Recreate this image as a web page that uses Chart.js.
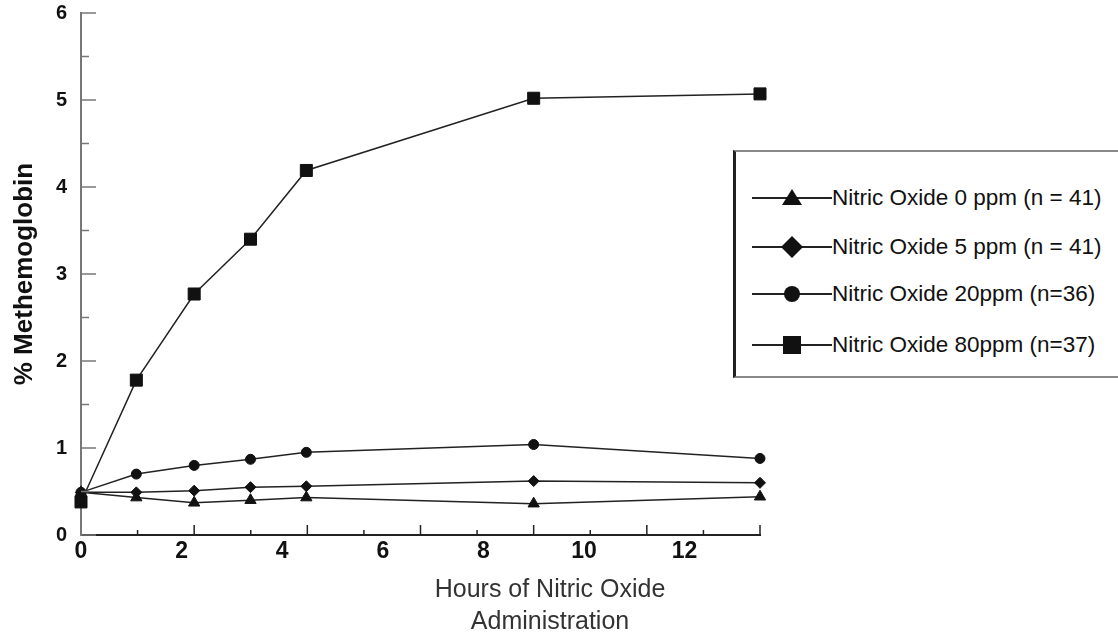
<!DOCTYPE html>
<html>
<head>
<meta charset="utf-8">
<title>Methemoglobin vs hours of nitric oxide</title>
<script src="https://cdn.jsdelivr.net/npm/chart.js@4/dist/chart.umd.min.js"></script>
<style>
  html, body { margin: 0; padding: 0; background: #fff; }
  #wrap { position: relative; width: 1118px; height: 641px; overflow: hidden; }
  #legend {
    position: absolute; left: 733px; top: 150px; width: 420px; height: 228px;
    box-sizing: border-box; background: #fff;
    border: 2px solid #888; border-left: 3px solid #222;
  }
  .item {
    position: absolute; left: 16px; height: 30px;
    display: flex; align-items: center; white-space: nowrap;
    font-family: 'Liberation Sans', Arial, sans-serif; font-size: 22.5px; color: #111;
  }
  .item svg { display: block; }
</style>
</head>
<body>
<div id="wrap">
  <canvas id="chartArea" width="1118" height="641"></canvas>
  <div id="legend"></div>
</div>
<script>
// values
const HOURS = [0, 1.1, 2.25, 3.37, 4.48, 9.0, 13.5];
const NO_0PPM = [0.49, 0.43, 0.37, 0.40, 0.43, 0.36, 0.44];
const NO_5PPM = [0.49, 0.49, 0.51, 0.55, 0.56, 0.62, 0.60];
const NO_20PPM = [0.49, 0.70, 0.80, 0.87, 0.95, 1.04, 0.88];
const NO_80PPM = [0.38, 1.78, 2.77, 3.40, 4.19, 5.02, 5.07];
const SERIES_LABELS = [
  'Nitric Oxide 0 ppm (n = 41)',
  'Nitric Oxide 5 ppm (n = 41)',
  'Nitric Oxide 20ppm (n=36)',
  'Nitric Oxide 80ppm (n=37)'
];
const X_TICKS = [0, 2, 4, 6, 8, 10, 12];
const X_MAX = 13.5;
const Y_MAX = 6;
const X_MARKS = 12; // tick marks along the x axis (not aligned with labels in the original)

function toPoints(values) {
  return HOURS.map((h, i) => ({ x: h, y: values[i] }));
}

// short tick marks pointing into the plot, like the original figure
const innerTicks = {
  id: 'innerTicks',
  afterDraw(chart) {
    const { ctx, scales: { x, y } } = chart;
    ctx.save();
    ctx.lineWidth = 1.5;

    ctx.strokeStyle = '#777';
    for (const t of y.ticks) {
      const py = y.getPixelForValue(t.value);
      ctx.beginPath();
      ctx.moveTo(x.left, py);
      ctx.lineTo(x.left + 15, py);
      ctx.stroke();
      if (t.value < Y_MAX) {
        const pm = y.getPixelForValue(t.value + 0.5);
        ctx.beginPath();
        ctx.moveTo(x.left, pm);
        ctx.lineTo(x.left + 8, pm);
        ctx.stroke();
      }
    }

    ctx.strokeStyle = '#222';
    for (let i = 1; i <= X_MARKS; i++) {
      const px = x.getPixelForValue(X_MAX * i / X_MARKS);
      const len = i % 2 === 0 ? 10 : 5;
      ctx.beginPath();
      ctx.moveTo(px, y.bottom);
      ctx.lineTo(px, y.bottom - len);
      ctx.stroke();
    }
    ctx.restore();
  }
};

const lineStyle = {
  borderColor: '#222',
  backgroundColor: '#111',
  pointBackgroundColor: '#111',
  pointBorderColor: '#111',
  borderWidth: 1.5,
  pointBorderWidth: 1,
  tension: 0,
  fill: false,
  clip: false
};

const data = {
  datasets: [
    { ...lineStyle, label: SERIES_LABELS[0], data: toPoints(NO_0PPM), pointStyle: 'triangle', pointRadius: 6.5 },
    { ...lineStyle, label: SERIES_LABELS[1], data: toPoints(NO_5PPM), pointStyle: 'rectRot', pointRadius: 5.5 },
    { ...lineStyle, label: SERIES_LABELS[2], data: toPoints(NO_20PPM), pointStyle: 'circle', pointRadius: 5 },
    { ...lineStyle, label: SERIES_LABELS[3], data: toPoints(NO_80PPM), pointStyle: 'rect', pointRadius: 8.5 }
  ]
};

const config = {
  type: 'line',
  data: data,
  plugins: [innerTicks],
  options: {
    responsive: false,
    animation: false,
    events: [],
    layout: { padding: { top: 13, right: 18, bottom: 3, left: 0 } },
    plugins: {
      legend: { display: false },
      tooltip: { enabled: false },
      title: {
        display: true,
        position: 'bottom',
        text: ['Hours of Nitric Oxide', 'Administration'],
        color: '#333',
        font: { family: "'Liberation Sans', Arial, sans-serif", size: 25, weight: 'normal', lineHeight: '32px' },
        padding: 0
      }
    },
    scales: {
      x: {
        type: 'linear',
        min: 0,
        max: X_MAX,
        afterBuildTicks: (s) => { s.ticks = X_TICKS.map(v => ({ value: v })); },
        afterFit: (s) => { s.height = 39; },
        grid: { display: false, drawTicks: false },
        border: { display: true, color: '#222', width: 2 },
        ticks: {
          color: '#111',
          padding: 3,
          maxRotation: 0,
          autoSkip: false,
          font: { family: "'Liberation Sans', Arial, sans-serif", size: 23, weight: 'bold' }
        }
      },
      y: {
        min: 0,
        max: Y_MAX,
        afterFit: (s) => { s.width = 81; s.paddingTop = 0; s.paddingBottom = 0; },
        grid: { display: false, drawTicks: false },
        border: { display: true, color: '#777', width: 2 },
        ticks: {
          stepSize: 1,
          color: '#111',
          padding: 14,
          font: { family: "'Liberation Sans', Arial, sans-serif", size: 20, weight: 'bold' }
        },
        title: {
          display: true,
          text: '% Methemoglobin',
          color: '#111',
          padding: { top: 9, bottom: 0 },
          font: { family: "'Liberation Sans', Arial, sans-serif", size: 26, weight: 'bold' }
        }
      },
      // empty right axis, only reserves the space the legend box sits in
      yR: {
        position: 'right',
        display: true,
        afterFit: (s) => { s.width = 340; },
        grid: { display: false, drawTicks: false },
        border: { display: false },
        ticks: { display: false }
      }
    }
  }
};

const ctx = document.getElementById('chartArea');
const chart = new Chart(ctx, config);

// legend box drawn over the plot, built from the chart's datasets
const LEGEND_ROWS = [46, 95, 142, 193];
function markerSvg(style) {
  let shape;
  if (style === 'triangle') shape = '<polygon points="40,3 30,19 50,19" fill="#111"/>';
  else if (style === 'rectRot') shape = '<polygon points="40,1 51,12 40,23 29,12" fill="#111"/>';
  else if (style === 'circle') shape = '<circle cx="40" cy="12" r="8" fill="#111"/>';
  else shape = '<rect x="31" y="3" width="18" height="18" fill="#111"/>';
  return '<svg width="80" height="24" viewBox="0 0 80 24">' +
    '<line x1="0" y1="12" x2="80" y2="12" stroke="#222" stroke-width="1.8"/>' + shape + '</svg>';
}
const legendEl = document.getElementById('legend');
chart.data.datasets.forEach((ds, i) => {
  const item = document.createElement('div');
  item.className = 'item';
  item.style.top = (LEGEND_ROWS[i] - 15) + 'px';
  item.innerHTML = markerSvg(ds.pointStyle);
  const span = document.createElement('span');
  span.textContent = ds.label;
  item.appendChild(span);
  legendEl.appendChild(item);
});
</script>
</body>
</html>
